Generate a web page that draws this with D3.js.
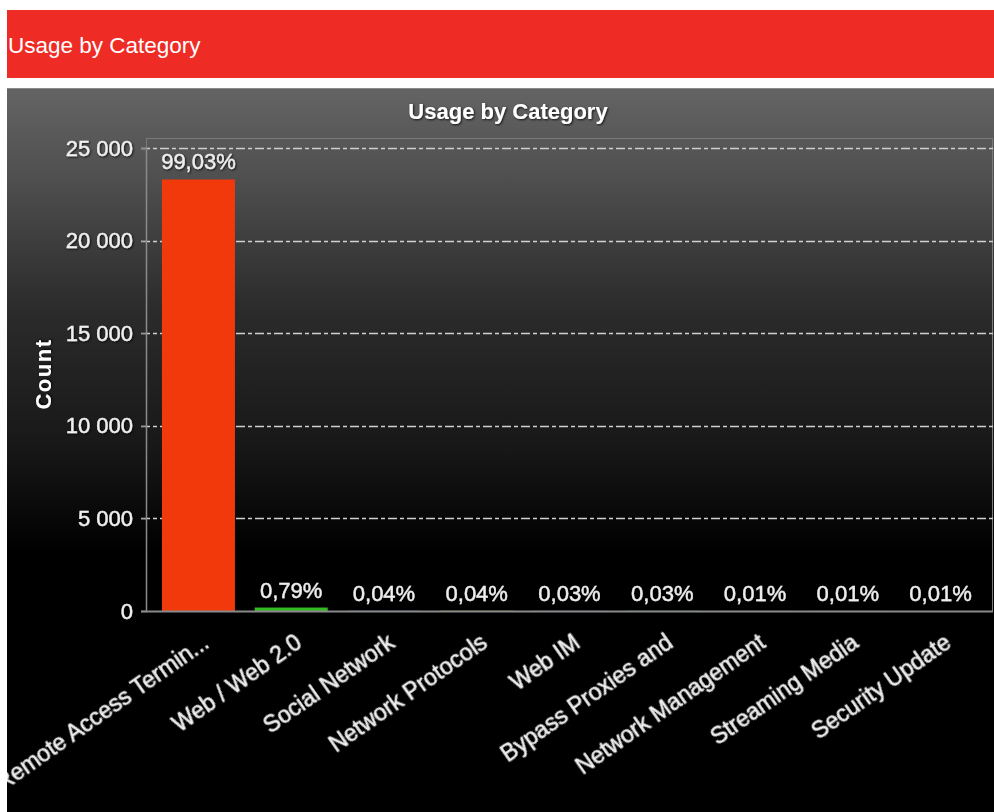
<!DOCTYPE html>
<html>
<head>
<meta charset="utf-8">
<script src="https://cdn.jsdelivr.net/npm/d3@7"></script>
<style>
  html, body { margin: 0; padding: 0; background: #ffffff; }
  svg { display: block; font-family: "Liberation Sans", Arial, sans-serif; }
</style>
</head>
<body>
<div id="chart"></div>
<script>
const categories = [
    'Remote Access Termin...', 'Web / Web 2.0', 'Social Network', 'Network Protocols',
    'Web IM', 'Bypass Proxies and', 'Network Management', 'Streaming Media', 'Security Update'
];
const counts     = [23300, 187, 9, 9, 8, 7, 3, 3, 2];
const barColors  = ['#f2390b', '#33bb22', '#3399ff', '#ffcc00', '#9933cc', '#00cccc', '#ff66aa', '#99cc33', '#cc6633'];
const yTicks     = [0, 5000, 10000, 15000, 20000, 25000];

const W = 994, H = 812;
const panel = { x: 7, y: 88, w: 987, h: 724 };
const plot  = { left: 146, right: 993, top: 138, bottom: 611 };

const total = d3.sum(counts);
const pct   = v => (v / total * 100).toFixed(2).replace('.', ',') + '%';
const fmt   = v => d3.format(',')(v).replace(/,/g, ' ');

const svg = d3.select('#chart').append('svg')
    .attr('width', W)
    .attr('height', H);

const defs = svg.append('defs');

const grad = defs.append('linearGradient')
    .attr('id', 'bg')
    .attr('x1', 0).attr('y1', 0).attr('x2', 0).attr('y2', 1);
[[0, '#646464'], [0.12, '#505050'], [0.3, '#2c2c2c'], [0.5, '#171717'], [0.64, '#000000'], [1, '#000000']]
    .forEach(([o, c]) => grad.append('stop').attr('offset', o).attr('stop-color', c));

defs.append('clipPath').attr('id', 'panelClip')
    .append('rect')
    .attr('x', panel.x).attr('y', panel.y)
    .attr('width', panel.w).attr('height', panel.h);

const shadow = defs.append('filter').attr('id', 'shadow')
    .attr('x', '-10%').attr('y', '-30%').attr('width', '120%').attr('height', '160%');
shadow.append('feDropShadow')
    .attr('dx', 1).attr('dy', 1).attr('stdDeviation', 0.8)
    .attr('flood-color', '#000').attr('flood-opacity', 0.8);

// petit épaississement du texte, comme sur la capture
const heavy = sel => sel
    .attr('stroke', '#eeeeee')
    .attr('stroke-width', 0.35)
    .attr('filter', 'url(#shadow)');

// ── Bandeau rouge ─────────────────────────────────────────────────────────
svg.append('rect')
    .attr('x', 7).attr('y', 10)
    .attr('width', W - 7).attr('height', 68)
    .attr('fill', '#ee2b25');

svg.append('text')
    .attr('x', 8).attr('y', 53)
    .attr('font-size', '22.5px')
    .attr('fill', '#ffffff')
    .text('Usage by Category');

// ── Panneau du graphique ──────────────────────────────────────────────────
const g = svg.append('g').attr('clip-path', 'url(#panelClip)');

g.append('rect')
    .attr('x', panel.x).attr('y', panel.y)
    .attr('width', panel.w).attr('height', panel.h)
    .attr('fill', 'url(#bg)');

g.append('line')
    .attr('x1', panel.x).attr('x2', panel.x + panel.w)
    .attr('y1', panel.y + 0.5).attr('y2', panel.y + 0.5)
    .attr('stroke', '#8a8a8a');

g.append('text')
    .attr('x', 508).attr('y', 119)
    .attr('text-anchor', 'middle')
    .attr('font-size', '22px')
    .attr('font-weight', 'bold')
    .attr('fill', '#ffffff')
    .attr('filter', 'url(#shadow)')
    .text('Usage by Category');

// Échelles
const x = d3.scaleBand()
    .domain(categories)
    .range([plot.left, plot.right])
    .paddingInner(0.213)
    .paddingOuter(0.172);

const y = d3.scaleLinear()
    .domain([0, 25000])
    .range([plot.bottom, 148]);

// Cadre de la zone de tracé
g.append('rect')
    .attr('x', plot.left + 0.5).attr('y', plot.top + 0.5)
    .attr('width', plot.right - plot.left - 1).attr('height', plot.bottom - plot.top)
    .attr('fill', 'none')
    .attr('stroke', '#7a7a7a')
    .attr('stroke-width', 1);

// Grille
g.append('g')
    .selectAll('line')
    .data(yTicks.filter(t => t > 0))
    .join('line')
    .attr('x1', plot.left - 5).attr('x2', plot.right)
    .attr('y1', d => Math.round(y(d)) + 0.5)
    .attr('y2', d => Math.round(y(d)) + 0.5)
    .attr('stroke', '#d0d0d0')
    .attr('stroke-width', 1.5)
    .attr('stroke-dasharray', '9,3,4,3');

// Axe Y
const yAxis = g.append('g')
    .attr('transform', `translate(${plot.left},0)`)
    .call(d3.axisLeft(y).tickValues(yTicks).tickFormat(fmt).tickSize(5).tickPadding(8));
yAxis.select('.domain').attr('stroke', '#8a8a8a').attr('stroke-width', 1.5);
yAxis.selectAll('.tick line').attr('stroke', '#8a8a8a');
yAxis.selectAll('.tick text')
    .attr('font-size', '22px')
    .attr('font-family', '"Liberation Sans", Arial, sans-serif')
    .attr('fill', '#f0f0f0')
    .call(heavy);

g.append('text')
    .attr('transform', `translate(51,374) rotate(-90)`)
    .attr('text-anchor', 'middle')
    .attr('font-size', '22px')
    .attr('font-weight', 'bold')
    .attr('letter-spacing', '1.5px')
    .attr('fill', '#ffffff')
    .attr('filter', 'url(#shadow)')
    .text('Count');

// Barres
g.append('g')
    .selectAll('rect')
    .data(counts)
    .join('rect')
    .attr('x', (d, i) => x(categories[i]))
    .attr('width', x.bandwidth())
    .attr('y', d => y(d))
    .attr('height', d => y(0) - y(d))
    .attr('fill', (d, i) => barColors[i]);

// Axe X (ligne de base)
g.append('line')
    .attr('x1', plot.left - 5).attr('x2', plot.right)
    .attr('y1', plot.bottom + 0.5).attr('y2', plot.bottom + 0.5)
    .attr('stroke', '#8a8a8a')
    .attr('stroke-width', 2);

// Étiquettes de pourcentage
g.append('g')
    .selectAll('text')
    .data(counts)
    .join('text')
    .attr('x', (d, i) => x(categories[i]) + x.bandwidth() / 2)
    .attr('y', d => y(d) - 10)
    .attr('text-anchor', 'middle')
    .attr('font-size', '22px')
    .attr('fill', '#eeeeee')
    .call(heavy)
    .text(d => pct(d));

// Libellés des catégories
g.append('g')
    .selectAll('text')
    .data(categories)
    .join('text')
    .attr('transform', d => `translate(${x(d) + x.bandwidth() / 2 + 12},${plot.bottom + 35}) rotate(-35)`)
    .attr('text-anchor', 'end')
    .attr('font-size', '23px')
    .attr('fill', '#f0f0f0')
    .call(heavy)
    .text(d => d);
</script>
</body>
</html>
